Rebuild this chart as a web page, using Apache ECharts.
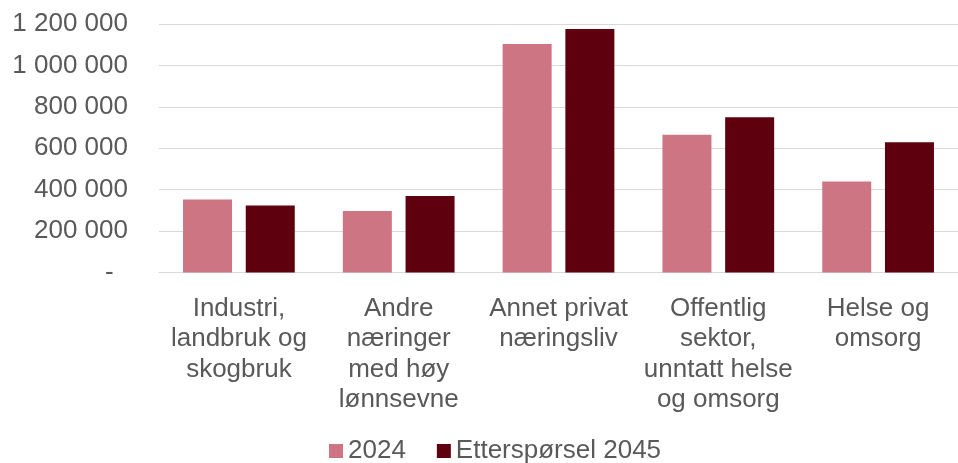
<!DOCTYPE html>
<html><head><meta charset="utf-8">
<script src="https://cdn.jsdelivr.net/npm/echarts@6/dist/echarts.min.js"></script>
<style>html,body{margin:0;padding:0;background:#fff}#c{width:958px;height:463px}</style>
</head><body><div id="c"></div>
<script>
const categories = ["Industri,\nlandbruk og\nskogbruk", "Andre\nnæringer\nmed høy\nlønnsevne", "Annet privat\nnæringsliv", "Offentlig\nsektor,\nunntatt helse\nog omsorg", "Helse og\nomsorg"];
const seriesNames = ["2024", "Etterspørsel 2045"];
const values2024 = [353000, 297000, 1103000, 665000, 440000];
const values2045 = [323000, 369000, 1176000, 750000, 629000];
const yTicks = { min: 0, max: 1200000, interval: 200000 };

function fmt(v){ if(v===0) return '-  '; return String(v).replace(/\B(?=(\d{3})+(?!\d))/g,' '); }
const font = 'Liberation Sans, Arial, sans-serif';
const chart = echarts.init(document.getElementById('c'), null, {renderer:'canvas'});
chart.setOption({
  animation:false,
  color:['#CD7582','#5E000E'],
  grid:{left:159,right:0,top:24,bottom:190.5,containLabel:false},
  legend:{top:437,left:329,padding:0,itemWidth:14,itemHeight:14,itemGap:31,icon:'rect',
    textStyle:{fontFamily:font,fontSize:26,color:'#595959',lineHeight:28},
    data:seriesNames},
  xAxis:{type:'category',data:categories,
    axisLine:{show:true,lineStyle:{color:'#D9D9D9',width:1}},axisTick:{show:false},
    axisLabel:{interval:0,margin:21,fontFamily:font,fontSize:26,color:'#595959',lineHeight:30.5}},
  yAxis:{type:'value',min:yTicks.min,max:yTicks.max,interval:yTicks.interval,
    axisLine:{show:false},axisTick:{show:false},
    splitLine:{lineStyle:{color:'#D9D9D9',width:1}},
    axisLabel:{margin:31,fontFamily:font,fontSize:26,color:'#595959',formatter:fmt}},
  series:[
    {name:seriesNames[0],type:'bar',data:values2024,barWidth:49,barGap:'28%'},
    {name:seriesNames[1],type:'bar',data:values2045,barWidth:49,barGap:'28%'}
  ]
});
</script></body></html>
